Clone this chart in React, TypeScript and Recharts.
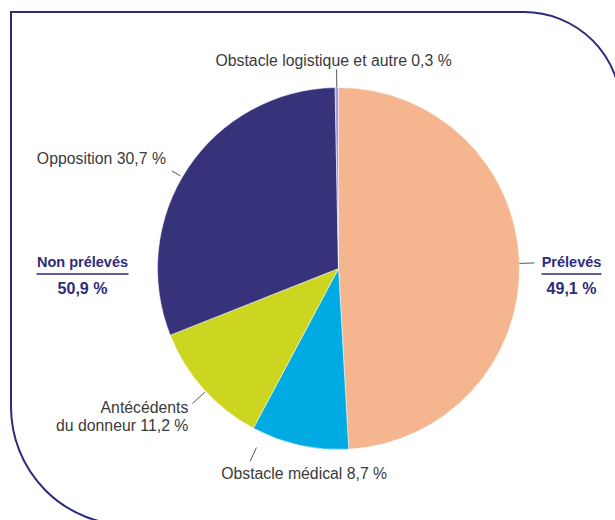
import * as React from 'react';
import { Pie, PieChart, Cell } from 'recharts';

// slices, clockwise from 12 o'clock
const sliceNames = ['Prélevés', 'Obstacle médical', 'Antécédents du donneur', 'Opposition', 'Obstacle logistique et autre'];
const sliceValues = [49.1, 8.7, 11.2, 30.7, 0.3];
const sliceColors = ['#f4b58f', '#00abe3', '#ccd620', '#37337a', '#a39ad0'];
const sliceLabels = [[], ['Obstacle médical 8,7 %'], ['Antécédents', 'du donneur 11,2 %'], ['Opposition 30,7 %'], ['Obstacle logistique et autre 0,3 %']];

const groupNames = ['Prélevés', 'Non prélevés'];

const W = 615;
const H = 520;
const CX = 338.5;
const CY = 268.5;
const R = 181;
const NAVY = '#2e2b7a';
const TEXT = '#3a3a3a';
const RADIAN = Math.PI / 180;

const data = sliceNames.map((name, i) => ({ name, value: sliceValues[i] }));

const fmt = (v: number) => v.toFixed(1).replace('.', ',') + ' %';

// leader line + text placement per slice
const labelLayout = [
  { shift: 0, r0: 0, r1: 15, anchor: 'start', dx: 0, dy: 0 },
  { shift: -12.2, r0: 16, r1: 31, anchor: 'start', dx: -29, dy: 18 },
  { shift: 1, r0: 1, r1: 18, anchor: 'end', dx: -4, dy: 9 },
  { shift: 3.3, r0: 2, r1: 12, anchor: 'end', dx: -6, dy: -6.5 },
  { shift: 0, r0: 0, r1: 18, anchor: 'middle', dx: -3, dy: -4 },
];

const renderLabel = (props: any) => {
  const { cx, cy, midAngle, outerRadius, index } = props;
  const lay = labelLayout[index];
  const a = (midAngle + lay.shift) * RADIAN;
  const x0 = cx + (outerRadius + lay.r0) * Math.cos(a);
  const y0 = cy - (outerRadius + lay.r0) * Math.sin(a);
  const x1 = cx + (outerRadius + lay.r1) * Math.cos(a);
  const y1 = cy - (outerRadius + lay.r1) * Math.sin(a);
  const lines: string[] = sliceLabels[index];
  return (
    <g key={'lbl' + index}>
      <line x1={x0} y1={y0} x2={x1} y2={y1} stroke="#555" strokeWidth={1} />
      {lines.map((t, k) => (
        <text key={k} x={x1 + lay.dx} y={y1 + lay.dy + k * 18} textAnchor={lay.anchor} fill={TEXT}
          fontSize={15.8} fontFamily="'Liberation Sans', Arial, sans-serif">{t}</text>
      ))}
    </g>
  );
};

const GroupLabel = ({ x, title, value, half }: { x: number; title: string; value: number; half: number }) => (
  <g fontFamily="'Liberation Sans', Arial, sans-serif" fontWeight="bold" fill={NAVY}>
    <text x={x} y={267} textAnchor="middle" fontSize={14.5}>{title}</text>
    <line x1={x - half} x2={x + half} y1={274} y2={274} stroke={NAVY} strokeWidth={1.5} />
    <text x={x} y={294} textAnchor="middle" fontSize={16}>{fmt(value)}</text>
  </g>
);

export default function App() {
  const taken = sliceValues[0];
  const notTaken = sliceValues.slice(1).reduce((s, v) => s + v, 0);
  return (
    <div style={{ position: 'absolute', left: 0, top: 0, width: W, height: H, overflow: 'hidden', background: '#fff' }}>
      <div style={{ position: 'absolute', left: 10, top: 11, width: 612, height: 515, border: '2px solid #2d2a7d', borderRadius: '0 98px 0 119px', boxSizing: 'border-box' }} />
      <div style={{ position: 'absolute', left: 0, top: 0 }}>
        <PieChart width={W} height={H} margin={{ top: 0, right: 0, bottom: 0, left: 0 }}>
          <Pie data={data} dataKey="value" nameKey="name" cx={CX} cy={CY} outerRadius={R}
            startAngle={90} endAngle={-270} stroke="#fff" strokeWidth={0.5}
            label={renderLabel} labelLine={false} isAnimationActive={false}>
            {data.map((d, i) => <Cell key={d.name} fill={sliceColors[i]} />)}
          </Pie>
        </PieChart>
      </div>
      <svg width={W} height={H} style={{ position: 'absolute', left: 0, top: 0, pointerEvents: 'none' }}>
        <GroupLabel x={CX + R + 52} title={groupNames[0]} value={taken} half={30} />
        <GroupLabel x={CX - R - 75} title={groupNames[1]} value={notTaken} half={46} />
      </svg>
    </div>
  );
}
